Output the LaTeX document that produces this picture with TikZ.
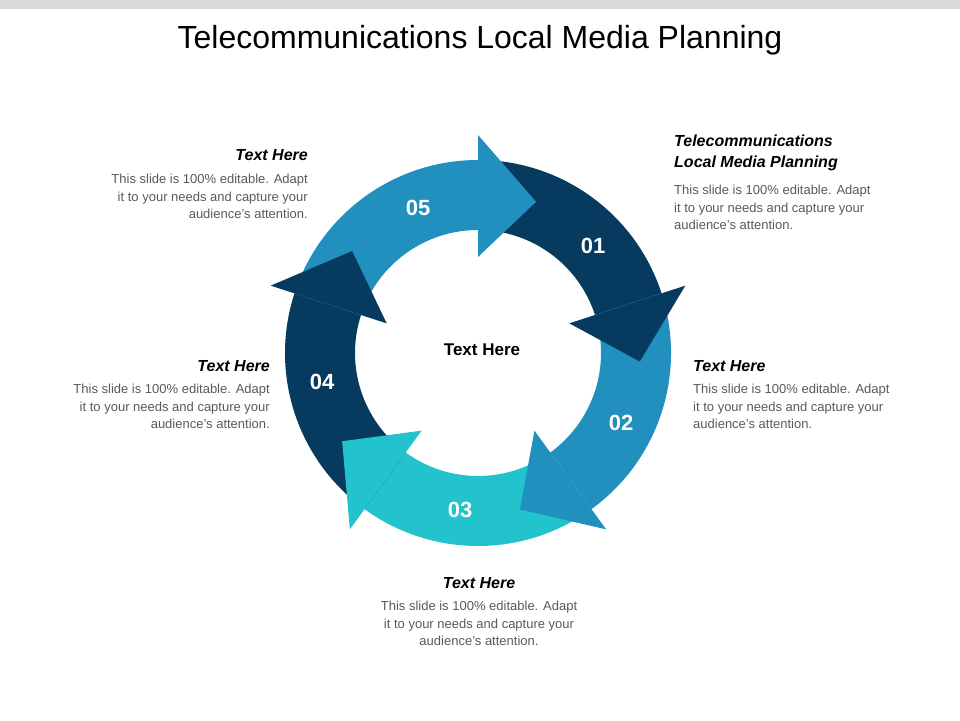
\documentclass[tikz,border=0pt]{standalone}
\usepackage{fontspec}
\setmainfont{Liberation Sans}
\definecolor{navy}{HTML}{063A5E}
\definecolor{midblue}{HTML}{2190BF}
\definecolor{teal}{HTML}{22C3CC}
\definecolor{bodygray}{HTML}{595959}
\begin{document}
\begin{tikzpicture}[x=1pt,y=1pt,
  num/.style={text=white,font=\fontsize{22}{24}\selectfont\bfseries},
  head/.style={font=\fontsize{16}{21}\selectfont\bfseries\itshape,inner sep=0},
  bodytxt/.style={font=\fontsize{13}{17.5}\selectfont,text=bodygray,inner sep=0}]
\useasboundingbox (0,0) rectangle (960,-720);
\fill[fill=black!15] (0,0) rectangle (960,-9);
\node (title) at (480,-40) {\fontsize{32}{36}\selectfont Telecommunications Local Media Planning};
\begin{scope}[shift={(478,-353)}]
\foreach \b/\c in {18/navy,-54/midblue,-126/teal,-198/navy,-270/midblue}{
  \pgfmathsetmacro\s{\b+72}
  \fill[\c] (\s:193) arc[start angle=\s,end angle=\b,radius=193] -- (\b:123) arc[start angle=\b,end angle=\s,radius=123] -- cycle;
}
\foreach \b/\c in {18/navy,-54/midblue,-126/teal,-198/navy,-270/midblue}{
  \pgfmathsetmacro\t{\b-21}
  \fill[\c] (\b:96) -- (\b:218) -- (\t:162) -- cycle;
}
\end{scope}
\node[num] (n05) at (418,-208) {05};
\node[num] (n01) at (593,-246) {01};
\node[num] (n02) at (621,-423) {02};
\node[num] (n03) at (460,-510) {03};
\node[num] (n04) at (322,-382) {04};
\node[font=\fontsize{17}{20}\selectfont\bfseries] (center) at (482,-350) {Text Here};
% top left
\node[head,anchor=east] (h5) at (308,-155) {Text Here};
\node[bodytxt,anchor=north east,align=right] (b5) at (308,-174) {This slide is 100\% editable. Adapt\\it to your needs and capture your\\audience's attention.};
% top right
\node[head,anchor=north west,align=left] (h1) at (674,-135) {Telecommunications\\Local Media Planning};
\node[bodytxt,anchor=north west,align=left] (b1) at (674,-185) {This slide is 100\% editable. Adapt\\it to your needs and capture your\\audience's attention.};
% right
\node[head,anchor=west] (h2) at (693,-366) {Text Here};
\node[bodytxt,anchor=north west,align=left] (b2) at (693,-384) {This slide is 100\% editable. Adapt\\it to your needs and capture your\\audience's attention.};
% left
\node[head,anchor=east] (h4) at (270,-366) {Text Here};
\node[bodytxt,anchor=north east,align=right] (b4) at (270,-384) {This slide is 100\% editable. Adapt\\it to your needs and capture your\\audience's attention.};
% bottom
\node[head] (h3) at (479,-583) {Text Here};
\node[bodytxt,anchor=north,align=center] (b3) at (479,-601) {This slide is 100\% editable. Adapt\\it to your needs and capture your\\audience's attention.};
\end{tikzpicture}
\end{document}
